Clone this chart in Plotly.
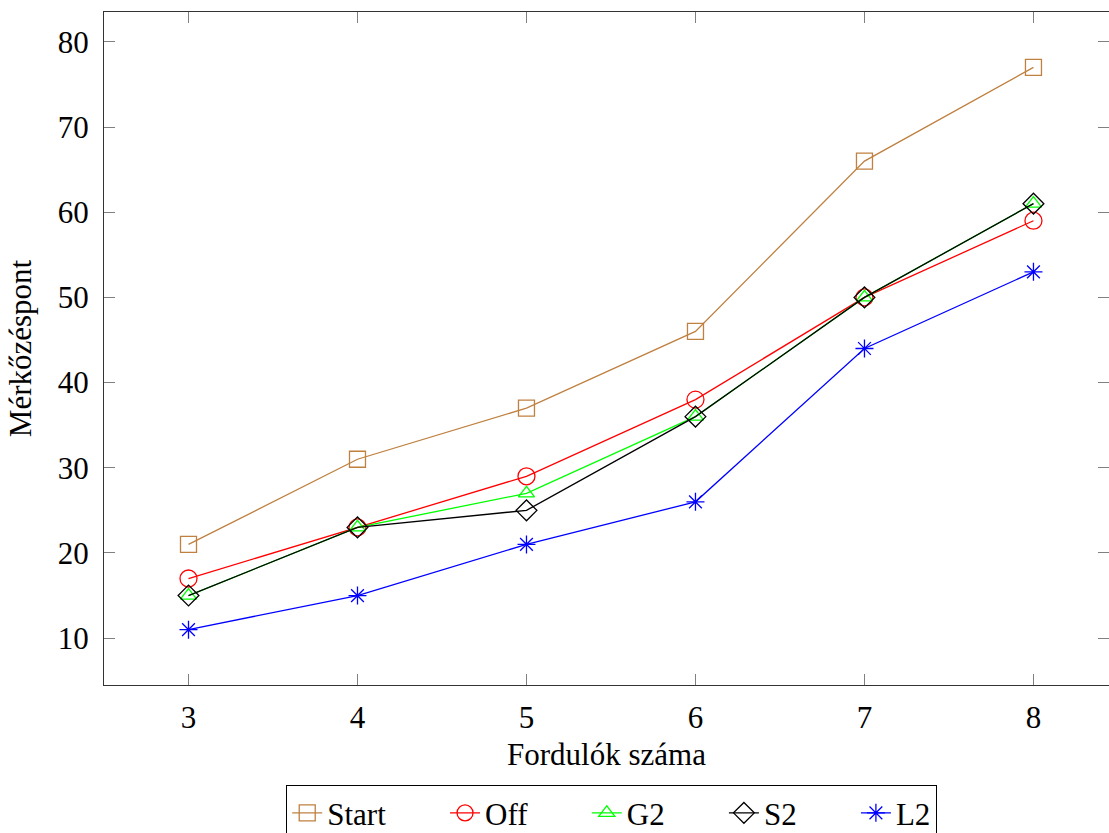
import plotly.graph_objects as go

# Number of rounds on the x axis
rounds = [3, 4, 5, 6, 7, 8]

# Match points per strategy
start = [21, 31, 37, 46, 66, 77]
off = [17, 23, 29, 38, 50, 59]
g2 = [15, 23, 27, 36, 50, 61]
s2 = [15, 23, 25, 36, 50, 61]
l2 = [11, 15, 21, 26, 44, 53]

y_ticks = [10, 20, 30, 40, 50, 60, 70, 80]

FONT = "'Liberation Serif', 'Times New Roman', serif"
FS = 31
PAD = "\u00a0" * 7

series = [
    ("Start", start, "rgb(191,128,64)", "square-open", 16),
    ("Off", off, "rgb(255,0,0)", "circle-open", 17),
    ("G2", g2, "rgb(0,255,0)", "triangle-up-open", 14),
    ("S2", s2, "rgb(0,0,0)", "diamond-open", 16),
    ("L2", l2, "rgb(0,0,255)", "asterisk-open", 15),
]

fig = go.Figure()
for i, (name, vals, color, symbol, size) in enumerate(series):
    label = name if i == len(series) - 1 else name + PAD
    fig.add_trace(go.Scatter(
        x=rounds, y=vals, name=label, mode="lines+markers",
        line=dict(color=color, width=1.3),
        marker=dict(symbol=symbol, size=size, color=color,
                    line=dict(color=color, width=1.3)),
    ))

# invisible trace on a mirrored y axis to carry the right-hand ticks
fig.add_trace(go.Scatter(x=rounds, y=start, yaxis="y2", showlegend=False,
                         mode="markers", marker=dict(opacity=0),
                         hoverinfo="skip"))

axis_common = dict(
    ticks="inside", ticklen=11, tickcolor="#808080", tickwidth=1.2,
    showgrid=False, zeroline=False,
    tickfont=dict(family=FONT, size=FS, color="black"),
)

fig.update_layout(
    width=1109, height=833,
    margin=dict(l=104, r=0, t=12, b=148, autoexpand=False),
    paper_bgcolor="white", plot_bgcolor="white",
    font=dict(family=FONT, size=FS, color="black"),
    xaxis=dict(
        range=[2.5, 8.447], tickvals=rounds, showline=True, linecolor="#333",
        linewidth=1.3, mirror="ticks", ticklabelstandoff=5, automargin=False,
        title=dict(text="Fordulók száma", font=dict(family=FONT, size=FS),
                   standoff=8),
        **axis_common,
    ),
    yaxis=dict(
        range=[4.5, 83.5], tickvals=y_ticks, showline=True, linecolor="#333",
        linewidth=1.3, ticklabelstandoff=8, automargin=False,
        title=dict(text="Mérkőzéspont", font=dict(family=FONT, size=FS),
                   standoff=16),
        **axis_common,
    ),
    yaxis2=dict(
        range=[4.5, 83.5], tickvals=y_ticks, overlaying="y", side="right",
        showline=False, showticklabels=False, ticks="inside", ticklen=11,
        tickcolor="#808080", tickwidth=1.2, showgrid=False, zeroline=False,
    ),
    legend=dict(
        orientation="h", x=0.505, xanchor="center",
        yref="container", y=1 - 785 / 833, yanchor="top",
        bordercolor="black", borderwidth=1.2, bgcolor="white",
        font=dict(family=FONT, size=FS, color="black"), itemwidth=30,
        tracegroupgap=0,
    ),
    showlegend=True,
)

fig.write_html("out.html")
